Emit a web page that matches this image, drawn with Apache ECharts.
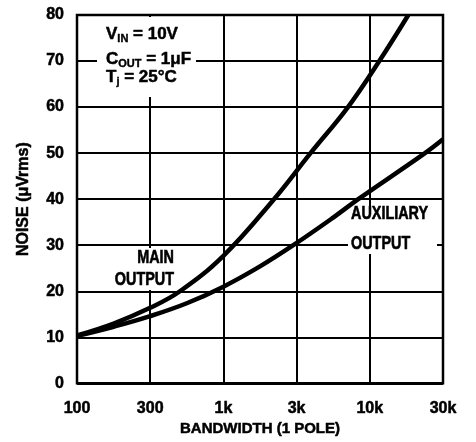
<!DOCTYPE html>
<html>
<head>
<meta charset="utf-8">
<script src="https://cdn.jsdelivr.net/npm/echarts@6/dist/echarts.min.js"></script>
<style>html,body{margin:0;padding:0;background:#fff}#c{width:476px;height:442px}</style>
</head>
<body>
<div id="c"></div>
<script>
// ---- data ----
const tickValues = [100, 316.23, 1000, 3162.3, 10000, 31622.78];
const tickLabels = ['100', '300', '1k', '3k', '10k', '30k'];
const yTicks = [0, 10, 20, 30, 40, 50, 60, 70, 80];

const mainBandwidth = [100, 178, 316, 505, 1000, 2216, 3936, 7096, 11614, 18323];
const mainNoise     = [10.4, 13.0, 16.4, 20.0, 27.7, 40.0, 50.0, 60.0, 70.0, 80.0];

const auxBandwidth = [100, 178, 316, 562, 1000, 1778, 3002, 5623, 8340, 23823, 31623];
const auxNoise     = [10.3, 12.3, 14.6, 17.4, 21.0, 25.4, 30.0, 36.0, 40.0, 50.0, 53.0];

const FONT = '"Liberation Sans", Arial, sans-serif';

function pairs(xs, ys) { return xs.map((x, i) => [x, ys[i]]); }
function labelFor(v) {
  for (let i = 0; i < tickValues.length; i++) {
    if (Math.abs(Math.log10(v) - Math.log10(tickValues[i])) < 0.05) return tickLabels[i];
  }
  return '';
}

const chart = echarts.init(document.getElementById('c'), null, {renderer: 'canvas'});
const txt = {fontFamily: FONT, fontWeight: 'bold', fontSize: 16, color: '#000',
             textBorderColor: '#000', textBorderWidth: 0.5};

const rich = {
  n: {fontFamily: FONT, fontWeight: 'bold', fontSize: 17, fill: '#000', stroke: '#000', lineWidth: 0.5},
  s: {fontFamily: FONT, fontWeight: 'bold', fontSize: 11, fill: '#000', stroke: '#000', lineWidth: 0.4, padding: [9, 0, 0, 0]}
};
function condText(x, y, text, align) {
  return {type: 'text', z: 2, x: x, y: y, scaleX: 0.8,
    style: {x: 0, y: 0, text: text, align: align, verticalAlign: 'middle',
            fontFamily: FONT, fontWeight: 'bold', fontSize: 18, fill: '#000', stroke: '#000', lineWidth: 0.6}};
}
function condLine(x, y, text) {
  return {type: 'text', z: 2, x: x, y: y,
    style: {x: 0, y: 0, text: text, align: 'left', verticalAlign: 'middle', rich: rich}};
}

chart.setOption({
  animation: false,
  backgroundColor: '#fff',
  grid: {left: 77, right: 33, top: 15, bottom: 57, show: true, borderColor: '#000', borderWidth: 2.5, backgroundColor: 'transparent'},
  xAxis: {
    type: 'log', logBase: Math.sqrt(10), min: tickValues[0], max: tickValues[tickValues.length - 1],
    name: 'BANDWIDTH (1 POLE)', nameLocation: 'middle', nameGap: 38,
    nameTextStyle: Object.assign({}, txt, {fontSize: 15}),
    axisLine: {show: false}, axisTick: {show: false},
    axisLabel: Object.assign({}, txt, {margin: 17, formatter: labelFor, showMinLabel: true, showMaxLabel: true}),
    splitLine: {show: true, lineStyle: {color: '#000', width: 2}},
    minorTick: {show: false}, minorSplitLine: {show: false}
  },
  yAxis: {
    type: 'value', min: yTicks[0], max: yTicks[yTicks.length - 1], interval: 10,
    name: 'NOISE (μVrms)', nameLocation: 'middle', nameGap: 45,
    nameTextStyle: Object.assign({}, txt),
    axisLine: {show: false}, axisTick: {show: false},
    axisLabel: Object.assign({}, txt, {margin: 13}),
    splitLine: {show: true, lineStyle: {color: '#000', width: 2}}
  },
  series: [
    {name: 'MAIN OUTPUT', type: 'line', data: pairs(mainBandwidth, mainNoise), smooth: 0.4,
     showSymbol: false, lineStyle: {color: '#000', width: 4.5}, z: 3},
    {name: 'AUXILIARY OUTPUT', type: 'line', data: pairs(auxBandwidth, auxNoise), smooth: 0.4,
     showSymbol: false, lineStyle: {color: '#000', width: 4.5}, z: 3}
  ],
  graphic: {elements: [
    {type: 'rect', z: 1, shape: {x: 97, y: 17, width: 99, height: 80}, style: {fill: '#fff'}},
    condLine(106, 34, '{n|V}{s|IN}{n| = 10V}'),
    condLine(106, 59.5, '{n|C}{s|OUT}{n| = 1μF}'),
    condLine(106, 77.5, '{n|T}{s|j}{n| = 25°C}'),
    {type: 'rect', z: 1, shape: {x: 112, y: 248, width: 65, height: 42}, style: {fill: '#fff'}},
    condText(174, 258.5, 'MAIN', 'right'),
    condText(174, 280.5, 'OUTPUT', 'right'),
    {type: 'rect', z: 1, shape: {x: 348, y: 206, width: 89, height: 48}, style: {fill: '#fff'}},
    condText(351, 214.5, 'AUXILIARY', 'left'),
    condText(351, 244, 'OUTPUT', 'left')
  ]}
});
</script>
</body>
</html>
